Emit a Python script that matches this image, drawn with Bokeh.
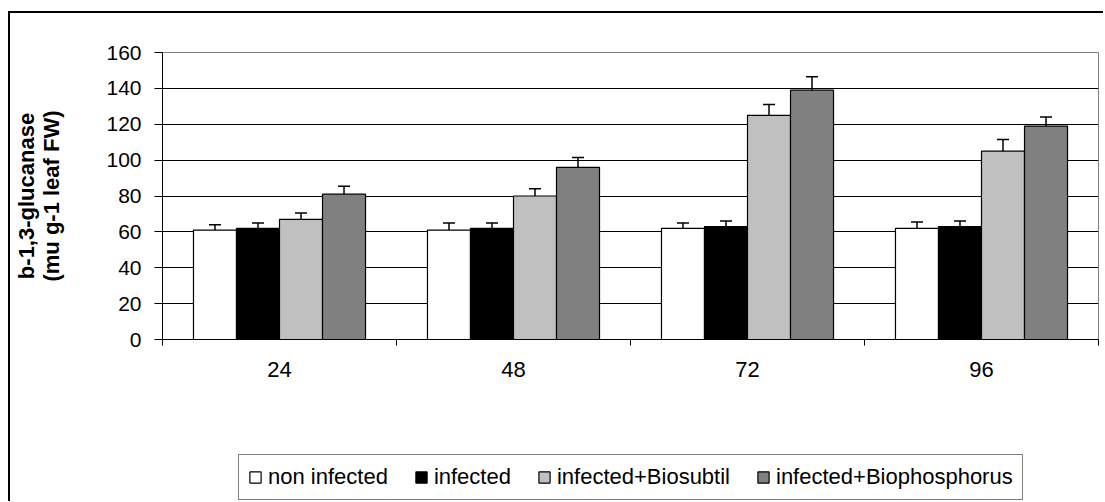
from bokeh.plotting import figure
from bokeh.layouts import column
from bokeh.models import (Range1d, FixedTicker, Whisker, TeeHead, ColumnDataSource,
                          Legend, LegendItem)
from bokeh.transform import dodge
from bokeh.embed import file_html
from bokeh.resources import INLINE

# ---- data ----
categories = ["24", "48", "72", "96"]
series_names = ["non infected", "infected", "infected+Biosubtil", "infected+Biophosphorus"]
non_infected = [61, 61, 62, 62]
infected = [62, 62, 63, 63]
biosubtil = [67, 80, 125, 105]
biophosphorus = [81, 96, 139, 119]
non_infected_err = [3, 4, 3, 3.5]
infected_err = [3, 3, 3, 3]
biosubtil_err = [3.5, 4, 6, 6.5]
biophosphorus_err = [4.5, 5.5, 7.5, 5]
y_ticks = [0, 20, 40, 60, 80, 100, 120, 140, 160]

values = [non_infected, infected, biosubtil, biophosphorus]
errors = [non_infected_err, infected_err, biosubtil_err, biophosphorus_err]
colors = ["#ffffff", "#000000", "#c0c0c0", "#808080"]

FONT = "Liberation Sans"
xs = [i + 0.5 for i in range(len(categories))]

p = figure(width=1093, height=387,
           x_range=Range1d(0, len(categories)), y_range=Range1d(y_ticks[0], y_ticks[-1]),
           output_backend="svg", toolbar_location=None,
           min_border_left=152, min_border_right=5, min_border_top=39, min_border_bottom=61)

p.outline_line_color = "#808080"
p.outline_line_width = 1
p.background_fill_color = "white"
p.border_fill_color = "white"

bar_w = 0.1838
sources = []
for k, (vals, errs, col) in enumerate(zip(values, errors, colors)):
    off = (k - 1.5) * bar_w
    src = ColumnDataSource(dict(x=xs, top=vals, upper=[v + e for v, e in zip(vals, errs)]))
    sources.append(src)
    p.vbar(x=dodge("x", off, range=p.x_range), top="top", bottom=0, width=bar_w,
           fill_color=col, line_color="black", line_width=1.2, source=src)
    w = Whisker(base=dodge("x", off, range=p.x_range), upper="upper", lower="top", source=src,
                upper_head=TeeHead(size=12, line_width=1.5, line_color="black"), lower_head=None,
                line_width=1.5, line_color="black", level="annotation")
    p.add_layout(w)

# x axis
p.xgrid.visible = False
p.xaxis.ticker = FixedTicker(ticks=xs, minor_ticks=list(range(len(categories) + 1)))
p.xaxis.major_label_overrides = {x: c for x, c in zip(xs, categories)}
p.xaxis.major_tick_line_color = None
p.xaxis.major_tick_out = 0
p.xaxis.major_tick_in = 0
p.xaxis.minor_tick_out = 6
p.xaxis.minor_tick_in = 0
p.xaxis.minor_tick_line_color = "black"
p.xaxis.axis_line_color = "black"
p.xaxis.major_label_standoff = 16
p.xaxis.major_label_text_font = FONT
p.xaxis.major_label_text_font_size = "22px"
p.xaxis.major_label_text_color = "black"

# y axis
p.yaxis.ticker = FixedTicker(ticks=y_ticks)
p.ygrid.ticker = FixedTicker(ticks=y_ticks[1:-1])
p.ygrid.grid_line_color = "black"
p.ygrid.grid_line_width = 1
p.yaxis.minor_tick_line_color = None
p.yaxis.major_tick_out = 8
p.yaxis.major_tick_in = 0
p.yaxis.major_tick_line_color = "black"
p.yaxis.axis_line_color = "black"
p.yaxis.major_label_standoff = 13
p.yaxis.major_label_text_font = FONT
p.yaxis.major_label_text_font_size = "21px"
p.yaxis.major_label_text_color = "black"
p.yaxis.axis_label = "b-1,3-glucanase\n(mu g-1 leaf FW)"
p.yaxis.axis_label_text_font = FONT
p.yaxis.axis_label_text_font_size = "22px"
p.yaxis.axis_label_text_font_style = "bold"
p.yaxis.axis_label_text_color = "black"
p.yaxis.axis_label_text_line_height = 1.0
p.yaxis.axis_label_standoff = 39

# ---- legend strip below the chart (legend entries use the series' own sources) ----
lg = figure(width=1093, height=101, x_range=Range1d(0, 1), y_range=Range1d(0, 1),
            output_backend="svg", toolbar_location=None,
            min_border_left=0, min_border_right=0, min_border_top=0, min_border_bottom=0)
lg.axis.visible = False
lg.grid.visible = False
lg.outline_line_color = None
lg.background_fill_color = "white"
lg.border_fill_color = "white"
lg_renderers = []
for src, c in zip(sources, colors):
    r = lg.vbar(x="x", top="top", width=0.1, fill_color=c, line_color="black",
                line_width=1.2, source=src)
    r.visible = False
    lg_renderers.append(r)
legend = Legend(items=[LegendItem(label=n, renderers=[r]) for n, r in zip(series_names, lg_renderers)],
                orientation="horizontal", location=(76, 1),
                label_text_font=FONT, label_text_font_size="22px", label_text_color="black",
                glyph_width=14, glyph_height=14, label_standoff=6, spacing=26,
                padding=9, margin=0, border_line_color="black", border_line_width=1,
                background_fill_color="white", background_fill_alpha=1,
                inactive_fill_alpha=0)
lg.add_layout(legend)

layout = column(p, lg, spacing=0)
layout.styles = {"border-left": "2px solid black", "border-top": "2px solid black",
                 "margin-top": "11px", "margin-left": "8px"}

open("out.html", "w").write(file_html(layout, INLINE))
